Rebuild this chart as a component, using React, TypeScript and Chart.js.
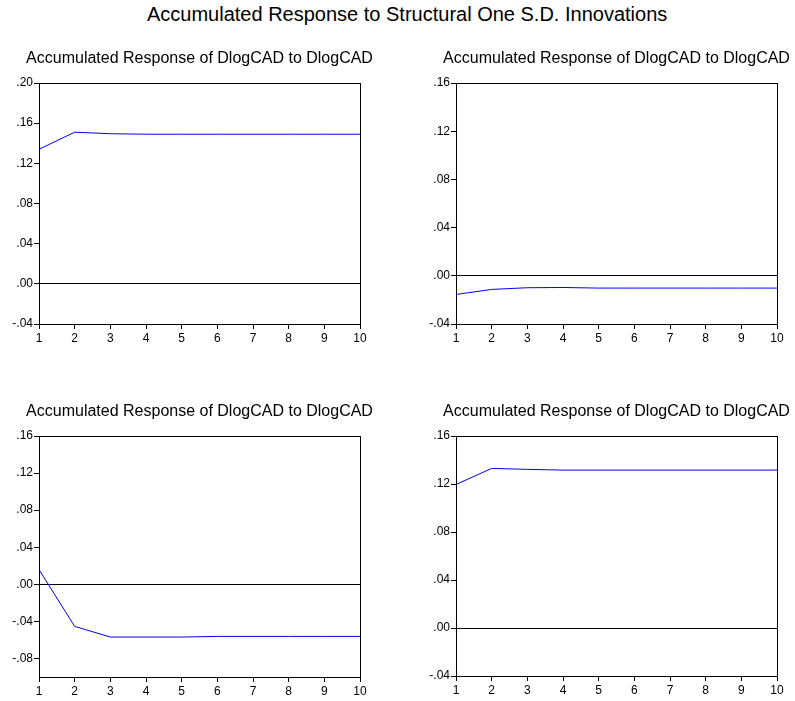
import React, { useEffect, useRef } from "react";
import { Chart, registerables } from "chart.js";

Chart.register(...registerables);

const FONT = "'Liberation Sans', Arial, Helvetica, sans-serif";

const MAIN_TITLE = "Accumulated Response to Structural One S.D. Innovations";
const PANEL_TITLES = [
  "Accumulated Response of DlogCAD to DlogCAD",
  "Accumulated Response of DlogCAD to DlogCAD",
  "Accumulated Response of DlogCAD to DlogCAD",
  "Accumulated Response of DlogCAD to DlogCAD",
];

const PERIODS = ["1", "2", "3", "4", "5", "6", "7", "8", "9", "10"];

const RESP_1 = [0.134, 0.151, 0.1495, 0.149, 0.149, 0.149, 0.149, 0.149, 0.149, 0.149];
const RESP_2 = [-0.0155, -0.0113, -0.0099, -0.0097, -0.0102, -0.0102, -0.0102, -0.0102, -0.0102, -0.0102];
const RESP_3 = [0.0159, -0.0454, -0.0569, -0.0569, -0.0569, -0.0562, -0.0562, -0.0562, -0.0562, -0.0562];
const RESP_4 = [0.1196, 0.133, 0.1322, 0.1316, 0.1316, 0.1316, 0.1316, 0.1316, 0.1316, 0.1316];

const Y_TICKS_1 = [-0.04, 0.0, 0.04, 0.08, 0.12, 0.16, 0.2];
const Y_TICKS_2 = [-0.04, 0.0, 0.04, 0.08, 0.12, 0.16];
const Y_TICKS_3 = [-0.08, -0.04, 0.0, 0.04, 0.08, 0.12, 0.16];
const Y_TICKS_4 = [-0.04, 0.0, 0.04, 0.08, 0.12, 0.16];

const Y_MIN = [-0.04, -0.04, -0.1, -0.04];
const Y_MAX = [0.2, 0.16, 0.16, 0.16];

const SERIES = [RESP_1, RESP_2, RESP_3, RESP_4];
const TICKS = [Y_TICKS_1, Y_TICKS_2, Y_TICKS_3, Y_TICKS_4];

// canvas boxes; each canvas is symmetric around its plot area (side = axis band width)
const LAYOUT = [
  { left: 0, top: 40, w: 399, h: 320, side: 39, xH: 36 },
  { left: 420, top: 40, w: 393, h: 320, side: 36, xH: 36 },
  { left: 0, top: 393, w: 399, h: 308, side: 39, xH: 24 },
  { left: 420, top: 393, w: 393, h: 308, side: 36, xH: 25 },
];

const fmt = (v: number) => {
  const s = Math.abs(v).toFixed(2).replace(/^0/, "");
  return (v < -1e-9 ? "-" : "") + s;
};

const framePlugin = {
  id: "frame",
  afterDatasetsDraw(chart: any) {
    const { ctx, chartArea: a } = chart;
    const l = Math.round(a.left), t = Math.round(a.top);
    const r = Math.round(a.right), b = Math.round(a.bottom);
    ctx.save();
    ctx.strokeStyle = "#000";
    ctx.lineWidth = 1;
    ctx.strokeRect(l + 0.5, t + 0.5, r - l, b - t);
    ctx.restore();
  },
};

function Panel({ idx }: { idx: number }) {
  const ref = useRef<HTMLCanvasElement | null>(null);
  const L = LAYOUT[idx];
  useEffect(() => {
    if (!ref.current) return;
    const ticks = TICKS[idx];
    const chart = new Chart(ref.current, {
      type: "line",
      data: {
        labels: PERIODS,
        datasets: [
          {
            data: SERIES[idx],
            borderColor: "#0000ff",
            borderWidth: 1,
            pointRadius: 0,
            tension: 0,
            fill: false,
            yAxisID: "y",
          },
        ],
      },
      options: {
        animation: false,
        responsive: false,
        events: [],
        layout: { padding: 0 },
        plugins: {
          legend: { display: false },
          tooltip: { enabled: false },
          title: {
            display: true,
            text: PANEL_TITLES[idx],
            fullSize: true,
            color: "#000",
            font: { family: FONT, size: 16, weight: "normal", lineHeight: 1.2 },
            padding: { top: 8.5, bottom: 15.3 },
          },
        },
        scales: {
          x: {
            type: "category",
            offset: false,
            afterFit: (s: any) => {
              s.height = L.xH;
            },
            grid: {
              drawOnChartArea: false,
              drawTicks: true,
              tickLength: 5,
              tickColor: "#000",
              color: "#000",
            },
            border: { display: true, color: "#000", width: 1 },
            ticks: {
              color: "#000",
              font: { family: FONT, size: 12 },
              padding: 2,
              autoSkip: false,
              maxRotation: 0,
              minRotation: 0,
            },
          },
          y: {
            type: "linear",
            position: "left",
            min: Y_MIN[idx],
            max: Y_MAX[idx],
            afterBuildTicks: (s: any) => {
              s.ticks = ticks.map((v) => ({ value: v }));
            },
            afterFit: (s: any) => {
              s.width = L.side;
            },
            grid: {
              drawOnChartArea: true,
              drawTicks: true,
              tickLength: 5,
              tickColor: "#000",
              color: (ctx: any) =>
                ctx.tick && Math.abs(ctx.tick.value) < 1e-9 ? "#000" : "rgba(0,0,0,0)",
              lineWidth: 1,
            },
            border: { display: true, color: "#000", width: 1 },
            ticks: {
              color: "#000",
              font: { family: FONT, size: 12 },
              padding: 1,
              autoSkip: false,
              callback: (v: any) => fmt(Number(v)),
            },
          },
          yRight: {
            type: "linear",
            position: "right",
            display: true,
            min: 0,
            max: 1,
            afterFit: (s: any) => {
              s.width = L.side;
            },
            grid: { display: false, drawTicks: false },
            border: { display: false },
            ticks: { display: false },
          },
        },
      },
      plugins: [framePlugin],
    } as any);
    return () => chart.destroy();
  }, []);
  return (
    <canvas
      ref={ref}
      width={L.w}
      height={L.h}
      style={{ position: "absolute", left: L.left, top: L.top, width: L.w, height: L.h }}
    />
  );
}

export default function App() {
  return (
    <div
      style={{
        position: "absolute",
        left: 0,
        top: 0,
        width: 795,
        height: 701,
        background: "#fff",
        overflow: "hidden",
      }}
    >
      <div
        style={{
          position: "absolute",
          left: 147,
          top: 4,
          fontFamily: FONT,
          fontSize: 20,
          lineHeight: "20px",
          whiteSpace: "nowrap",
          color: "#000",
        }}
      >
        {MAIN_TITLE}
      </div>
      {[0, 1, 2, 3].map((i) => (
        <Panel key={i} idx={i} />
      ))}
    </div>
  );
}
